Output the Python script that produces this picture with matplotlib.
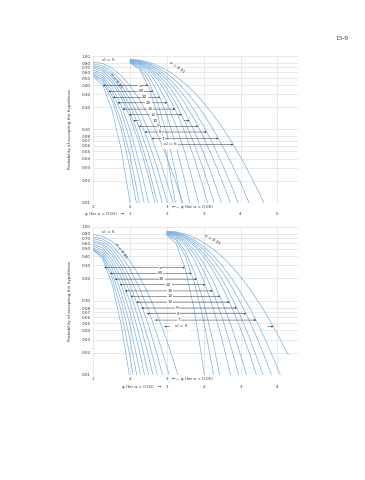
import matplotlib.pyplot as plt
from matplotlib.transforms import blended_transform_factory

# nu2 order used in every family below
NU2 = ['6', '7', '8', '9', '10', '12', '15', '20', '30', '60', '∞']

Y_TICKS = [1.00, 0.80, 0.70, 0.60, 0.50, 0.40, 0.30, 0.20, 0.10,
           0.08, 0.07, 0.06, 0.05, 0.04, 0.03, 0.02, 0.01]
STEP = 0.25  # readings taken every 0.25 of phi from the start of a curve

# ---- chart 1 (nu1 = 5) ----
C1_A05_START = 1.0
C1_A05_P = [
    [0.83, 0.792, 0.688, 0.544, 0.392, 0.257, 0.153, 0.0834, 0.0412, 0.0186],
    [0.78, 0.736, 0.619, 0.463, 0.309, 0.184, 0.097, 0.0458, 0.0192],
    [0.74, 0.692, 0.567, 0.407, 0.255, 0.14, 0.0676, 0.0284],
    [0.71, 0.658, 0.524, 0.359, 0.211, 0.107, 0.046, 0.0173],
    [0.68, 0.624, 0.48, 0.312, 0.17, 0.078, 0.030],
    [0.64, 0.583, 0.44, 0.277, 0.145, 0.063, 0.0226],
    [0.61, 0.54, 0.385, 0.218, 0.098, 0.035],
    [0.58, 0.51, 0.34, 0.176, 0.070, 0.021],
    [0.56, 0.48, 0.295, 0.133, 0.0435],
    [0.54, 0.45, 0.26, 0.104, 0.029],
    [0.52, 0.41, 0.19, 0.056],
]
C1_A05_END = [(3.43, 0.01), (3.17, 0.01), (3.01, 0.01), (2.87, 0.01), (2.74, 0.01),
              (2.67, 0.01), (2.50, 0.01), (2.38, 0.01), (2.25, 0.01), (2.17, 0.01), (2.0, 0.01)]

C1_A01_START = 2.0
C1_A01_P = [
    [0.90, 0.88, 0.826, 0.742, 0.64, 0.528, 0.418, 0.317, 0.23, 0.16, 0.107, 0.0684, 0.0419, 0.0246, 0.0138],
    [0.89, 0.866, 0.799, 0.698, 0.578, 0.455, 0.338, 0.239, 0.16, 0.101, 0.0607, 0.0346, 0.0186],
    [0.88, 0.851, 0.772, 0.656, 0.522, 0.39, 0.273, 0.179, 0.11, 0.063, 0.034, 0.0172],
    [0.87, 0.839, 0.748, 0.619, 0.475, 0.338, 0.223, 0.136, 0.077, 0.0406, 0.0198],
    [0.86, 0.821, 0.716, 0.571, 0.416, 0.277, 0.168, 0.093, 0.0472, 0.0218],
    [0.85, 0.805, 0.685, 0.525, 0.36, 0.223, 0.124, 0.0617, 0.0276],
    [0.84, 0.789, 0.653, 0.477, 0.308, 0.175, 0.088, 0.039, 0.0153],
    [0.83, 0.766, 0.603, 0.404, 0.23, 0.112, 0.0463, 0.0163],
    [0.82, 0.739, 0.54, 0.319, 0.153, 0.0595, 0.0188],
    [0.81, 0.703, 0.46, 0.2275, 0.0847, 0.0238],
    [0.80, 0.667, 0.387, 0.156, 0.044],
]
C1_A01_END = [(5.63, 0.01), (5.23, 0.01), (4.93, 0.01), (4.72, 0.01), (4.48, 0.01),
              (4.28, 0.01), (4.10, 0.01), (3.86, 0.01), (3.62, 0.01), (3.40, 0.01), (3.23, 0.01)]

# arrows: probability level, left phi, right phi, label phi, full line?
C1_ARROW_P = [0.062, 0.075, 0.092, 0.11, 0.131, 0.158, 0.189, 0.23, 0.273, 0.33, 0.398]
C1_ARROW_L = [2.86, 2.59, 2.40, 2.24, 2.09, 1.97, 1.80, 1.66, 1.53, 1.41, 1.26]
C1_ARROW_R = [4.80, 4.40, 4.08, 3.85, 3.61, 3.40, 3.22, 3.00, 2.81, 2.63, 2.49]
C1_LABEL_X = [3.08, 2.90, 2.81, 2.77, 2.68, 2.63, 2.54, 2.50, 2.40, 2.30, 2.27]
C1_FULL = [True, True, True, True, False, True, True, True, True, True, True]

# ---- chart 2 (nu1 = 6) ----
C2_A05_START = 1.0
C2_A05_P = [
    [0.78, 0.74, 0.635, 0.491, 0.342, 0.215, 0.122, 0.0626, 0.0289, 0.012],
    [0.73, 0.685, 0.567, 0.413, 0.266, 0.15, 0.075, 0.033, 0.0128],
    [0.69, 0.64, 0.512, 0.352, 0.208, 0.106, 0.0467, 0.0176],
    [0.65, 0.596, 0.46, 0.299, 0.164, 0.0753, 0.0292],
    [0.62, 0.562, 0.418, 0.256, 0.1286, 0.0531, 0.018],
    [0.58, 0.518, 0.369, 0.21, 0.0954, 0.0345],
    [0.55, 0.483, 0.327, 0.171, 0.069, 0.0215],
    [0.52, 0.447, 0.284, 0.134, 0.0467, 0.012],
    [0.50, 0.42, 0.248, 0.103, 0.030],
    [0.49, 0.398, 0.213, 0.075, 0.0174],
    [0.48, 0.373, 0.175, 0.0497],
]
C2_A05_END = [(3.30, 0.01), (3.06, 0.01), (2.88, 0.01), (2.74, 0.01), (2.62, 0.01),
              (2.50, 0.01), (2.39, 0.01), (2.28, 0.01), (2.18, 0.01), (2.08, 0.01), (1.98, 0.01)]

C2_A01_START = 3.0
C2_A01_P = [
    [0.87, 0.851, 0.796, 0.713, 0.61, 0.5, 0.392, 0.294, 0.211, 0.144, 0.0948, 0.0596, 0.0358, 0.0206],
    [0.86, 0.835, 0.765, 0.66, 0.538, 0.413, 0.299, 0.204, 0.131, 0.0797, 0.0456, 0.0246, 0.0125],
    [0.85, 0.821, 0.741, 0.624, 0.491, 0.36, 0.247, 0.158, 0.0943, 0.0526, 0.0274, 0.0133],
    [0.84, 0.807, 0.714, 0.582, 0.438, 0.303, 0.194, 0.114, 0.062, 0.031, 0.0143],
    [0.83, 0.792, 0.689, 0.546, 0.394, 0.259, 0.155, 0.0845, 0.042, 0.019],
    [0.82, 0.773, 0.647, 0.482, 0.318, 0.187, 0.0975, 0.0452, 0.0186],
    [0.81, 0.753, 0.606, 0.422, 0.254, 0.132, 0.0595, 0.0232],
    [0.80, 0.73, 0.555, 0.352, 0.186, 0.0818, 0.03],
    [0.79, 0.692, 0.464, 0.239, 0.0943, 0.0285],
    [0.78, 0.66, 0.399, 0.1725, 0.0534],
    [0.77, 0.592, 0.269, 0.072],
]
C2_A01_END = [(6.30, 0.019), (6.08, 0.01), (5.84, 0.01), (5.61, 0.01), (5.43, 0.01),
              (5.16, 0.01), (4.95, 0.01), (4.73, 0.01), (4.43, 0.01), (4.27, 0.01), (4.02, 0.01)]

C2_ARROW_P = [0.045, 0.055, 0.067, 0.08, 0.096, 0.115, 0.136, 0.165, 0.196, 0.234, 0.28]
C2_ARROW_L = [2.93, 2.68, 2.46, 2.31, 2.17, 2.01, 1.86, 1.72, 1.59, 1.45, 1.30]
C2_ARROW_R = [5.89, 5.42, 5.15, 4.90, 4.70, 4.44, 4.24, 4.04, 3.81, 3.67, 3.49]
C2_LABEL_X = [3.40, 3.33, 3.31, 3.27, 3.08, 3.08, 3.08, 3.04, 2.86, 2.81, 2.81]
C2_FULL = [False, True, True, True, True, True, True, True, True, True, True]

CURVE_COLOR = '#6fa8dc'
GRID_COLOR = '#d9d9d9'
TXT = '#333333'
FS = 3.0


def draw_family(ax, start, plist, ends):
    for ps, (xe, pe) in zip(plist, ends):
        xs = [start + STEP * i for i in range(len(ps))] + [xe]
        ax.plot(xs, ps + [pe], color=CURVE_COLOR, lw=0.45)


def draw_arrows(ax, ps, ls, rs, lx, full, first_label):
    for i, (p, l, r, x, f) in enumerate(zip(ps, ls, rs, lx, full)):
        if f:
            ax.annotate('', xy=(r, p), xytext=(l, p),
                        arrowprops=dict(arrowstyle='<|-|>', lw=0.35, color=TXT,
                                        mutation_scale=2.2, shrinkA=0, shrinkB=0))
        else:
            for a, b in ((l + 0.15, l), (r - 0.15, r)):
                ax.annotate('', xy=(b, p), xytext=(a, p),
                            arrowprops=dict(arrowstyle='-|>', lw=0.35, color=TXT,
                                            mutation_scale=2.2, shrinkA=0, shrinkB=0))
        lab = first_label if i == 0 else NU2[i]
        ax.text(x, p, lab, ha='center', va='center', fontsize=FS, color=TXT,
                bbox=dict(fc='white', ec='none', pad=0.4))


def setup(ax, offset, a01_ticks):
    ax.set_yscale('log')
    ax.set_xlim(1, 6.56)
    ax.set_ylim(0.01, 1.0)
    ax.set_yticks(Y_TICKS)
    ax.set_yticklabels(['%.2f' % v for v in Y_TICKS])
    ax.minorticks_off()
    ax.set_xticks(range(1, 7))
    ax.set_xticklabels([])
    ax.tick_params(length=0, labelsize=FS, colors=TXT, pad=2)
    ax.grid(True, color=GRID_COLOR, lw=0.4)
    for s in ax.spines.values():
        s.set_visible(False)
    ax.set_ylabel('Probability of accepting the hypothesis', fontsize=FS, color=TXT, labelpad=7)
    tr = blended_transform_factory(ax.transData, ax.transAxes)
    for t in [1, 2, 3]:
        ax.text(t, -0.015, str(t), transform=tr, ha='center', va='top', fontsize=FS, color=TXT)
    ax.text(3.15, -0.015, '\u2190\u2014 \u03c6 (for \u03b1 = 0.05)', transform=tr,
            ha='left', va='top', fontsize=FS, color=TXT)
    for t in a01_ticks:
        ax.text(t + offset, -0.065, str(t), transform=tr, ha='center', va='top',
                fontsize=FS, color=TXT)
    ax.text(offset + 0.85, -0.065, '\u03c6 (for \u03b1 = 0.01)   \u2192', transform=tr,
            ha='right', va='top', fontsize=FS, color=TXT)


fig = plt.figure(figsize=(3.65, 4.8), dpi=100)
fig.text(0.92, 0.917, '13-9', fontsize=5, family='Liberation Serif', color='#222222')

ax1 = fig.add_axes([0.2556, 0.5777, 0.5608, 0.3056])
setup(ax1, 1, [1, 2, 3, 4, 5])
draw_family(ax1, C1_A05_START, C1_A05_P, C1_A05_END)
draw_family(ax1, C1_A01_START, C1_A01_P, C1_A01_END)
draw_arrows(ax1, C1_ARROW_P, C1_ARROW_L, C1_ARROW_R, C1_LABEL_X, C1_FULL, r'$\nu_2$ = 6')
ax1.text(1.4, 0.88, r'$\nu_1$ = 5', fontsize=FS, color=TXT, ha='center', va='center')
ax1.text(1.62, 0.46, '\u03b1 = 0.05', fontsize=FS, color=TXT, rotation=-55, ha='center', va='center')
ax1.text(3.28, 0.71, '\u03b1 = 0.01', fontsize=FS, color=TXT, rotation=-35, ha='center', va='center')

ax2 = fig.add_axes([0.2556, 0.2188, 0.5608, 0.309])
setup(ax2, 2, [1, 2, 3, 4])
draw_family(ax2, C2_A05_START, C2_A05_P, C2_A05_END)
draw_family(ax2, C2_A01_START, C2_A01_P, C2_A01_END)
draw_arrows(ax2, C2_ARROW_P, C2_ARROW_L, C2_ARROW_R, C2_LABEL_X, C2_FULL, r'$\nu_2$ = 6')
ax2.text(1.4, 0.85, r'$\nu_1$ = 6', fontsize=FS, color=TXT, ha='center', va='center')
ax2.text(1.76, 0.48, '\u03b1 = 0.05', fontsize=FS, color=TXT, rotation=-55, ha='center', va='center')
ax2.text(4.23, 0.66, '\u03b1 = 0.01', fontsize=FS, color=TXT, rotation=-30, ha='center', va='center')

fig.savefig('out.png', dpi=100)
